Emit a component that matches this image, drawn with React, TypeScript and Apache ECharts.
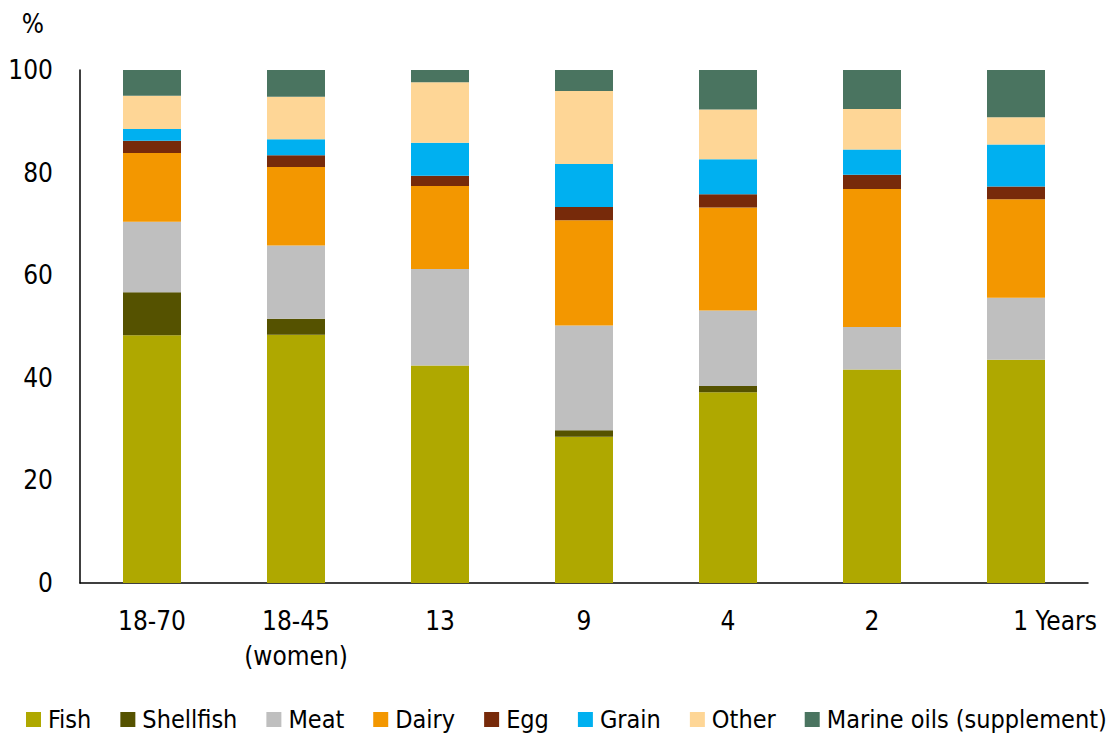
import React, { useEffect, useRef } from "react";
import * as echarts from "echarts";

const categories = ["18-70", "18-45\n(women)", "13", "9", "4", "2", "1 Years"];
const yTicks = [0, 20, 40, 60, 80, 100];

const fish = [48.3, 48.4, 42.4, 28.5, 37.2, 41.6, 43.5];
const shellfish = [8.4, 3.1, 0, 1.3, 1.2, 0, 0];
const meat = [13.7, 14.3, 18.8, 20.4, 14.7, 8.3, 12.1];
const dairy = [13.4, 15.3, 16.2, 20.5, 20.1, 26.9, 19.2];
const egg = [2.4, 2.3, 2.0, 2.6, 2.6, 2.8, 2.5];
const grain = [2.3, 3.1, 6.4, 8.4, 6.8, 4.9, 8.2];
const other = [6.5, 8.3, 11.8, 14.2, 9.7, 7.9, 5.3];
const marine = [5.0, 5.2, 2.4, 4.1, 7.7, 7.6, 9.2];

const seriesDefs = [
  { name: "Fish", data: fish, color: "#AFA800" },
  { name: "Shellfish", data: shellfish, color: "#555200" },
  { name: "Meat", data: meat, color: "#BFBFBF" },
  { name: "Dairy", data: dairy, color: "#F39700" },
  { name: "Egg", data: egg, color: "#772A0A" },
  { name: "Grain", data: grain, color: "#00B0F0" },
  { name: "Other", data: other, color: "#FED696" },
  { name: "Marine oils (supplement)", data: marine, color: "#4A7460" },
];

const FONT = "'DejaVu Sans Condensed', 'DejaVu Sans', Tahoma, Verdana, sans-serif";

export default function App() {
  const ref = useRef<HTMLDivElement>(null);
  useEffect(() => {
    document.body.style.margin = "0";
    if (!ref.current) return;
    const chart = echarts.init(ref.current, null, { renderer: "svg" });
    chart.setOption({
      animation: false,
      textStyle: { fontFamily: FONT, color: "#000" },
      grid: { left: 80, right: 24, top: 70, bottom: 153, containLabel: false },
      legend: {
        data: seriesDefs.map((s) => s.name),
        top: 707,
        left: 26,
        padding: 0,
        itemWidth: 15,
        itemHeight: 15,
        itemGap: 29,
        icon: "rect",
        textStyle: { fontFamily: FONT, fontSize: 25, color: "#000", padding: [0, 0, 0, 2] },
      },
      xAxis: {
        type: "category",
        data: categories,
        axisLine: { show: true, lineStyle: { color: "#000", width: 1.5 } },
        axisTick: { show: false },
        axisLabel: {
          color: "#000",
          fontFamily: FONT,
          fontSize: 26,
          lineHeight: 35,
          margin: 20,
          interval: 0,
          formatter: (v: string) => (v === "1 Years" ? "{pad| }" + v : v),
          rich: { pad: { width: 78, fontSize: 26, fontFamily: FONT } },
        },
      },
      yAxis: {
        type: "value",
        min: 0,
        max: 100,
        interval: 20,
        name: "%",
        nameLocation: "end",
        nameGap: 33,
        nameTextStyle: { fontFamily: FONT, fontSize: 26, color: "#000", align: "right", padding: [0, 36, 0, 0] },
        axisLine: { show: true, lineStyle: { color: "#000", width: 1.5 } },
        axisTick: { show: false },
        splitLine: { show: false },
        axisLabel: {
          color: "#000",
          fontFamily: FONT,
          fontSize: 26,
          margin: 27,
          formatter: (v: number) => (yTicks.includes(v) ? String(v) : ""),
        },
      },
      series: seriesDefs.map((s) => ({
        name: s.name,
        type: "bar",
        stack: "total",
        barWidth: 58,
        data: s.data,
        itemStyle: { color: s.color },
      })),
    });
    return () => chart.dispose();
  }, []);
  return <div ref={ref} style={{ width: 1112, height: 736 }} />;
}
